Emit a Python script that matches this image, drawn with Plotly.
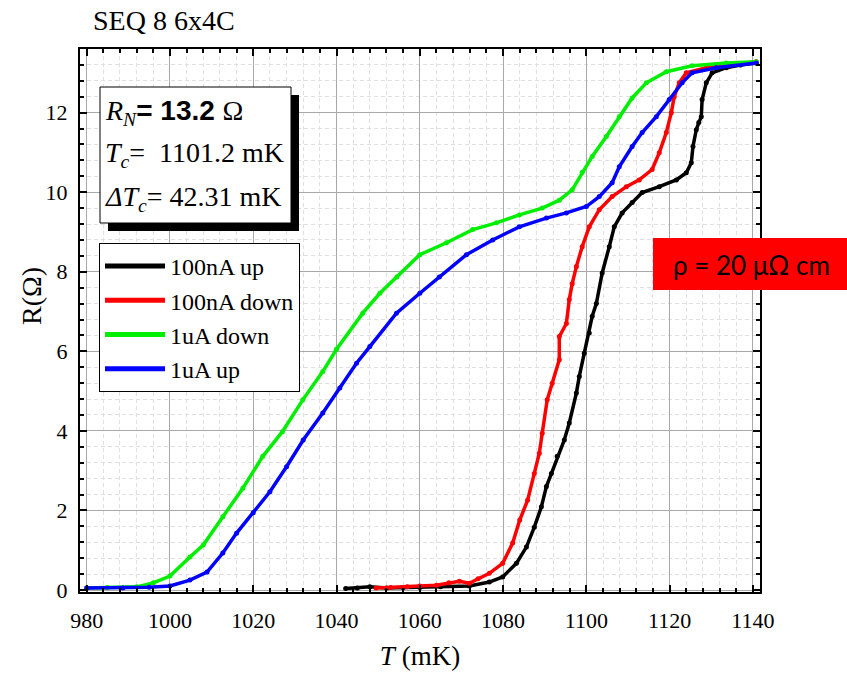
import plotly.graph_objects as go

# ---------------- data ----------------
t_100nA_up = [1042.2, 1045, 1048, 1052, 1056, 1060, 1065, 1071.9, 1076.7, 1079.9, 1083.2, 1085.6,
              1087.5, 1089.2, 1090.4, 1091.6, 1093.0, 1094.7, 1095.9, 1097.6, 1098.3, 1099.5,
              1100.7, 1101.4, 1102.4, 1103.8, 1105.5, 1106.7, 1108.6, 1111.0, 1113.4, 1117.5,
              1121.6, 1124.0, 1125.2, 1125.6, 1126.4, 1127.0, 1127.6, 1127.8, 1128.8, 1130.2,
              1133.6, 1137.0, 1140.8]
r_100nA_up = [0.04, 0.05, 0.08, 0.05, 0.06, 0.06, 0.08, 0.1, 0.2, 0.33, 0.67, 1.08,
              1.58, 2.09, 2.6, 2.93, 3.36, 3.77, 4.2, 4.95, 5.37, 5.95,
              6.46, 6.88, 7.2, 7.97, 8.63, 9.13, 9.48, 9.74, 9.99, 10.14,
              10.31, 10.49, 10.74, 11.15, 11.57, 11.75, 11.9, 12.33, 12.75, 13.0,
              13.13, 13.2, 13.25]

t_100nA_down = [1049.5, 1053, 1057, 1060, 1064, 1067, 1069.5, 1071.9, 1074, 1076.7, 1079.9,
                1082.3, 1084.0, 1085.9, 1087.5, 1088.7, 1089.4, 1090.6, 1091.8, 1093.5,
                1093.5, 1095.2, 1095.9, 1096.6, 1097.6, 1099.0, 1100.7, 1103.1, 1106.2,
                1109.6, 1112.7, 1115.8, 1117.5, 1119.2, 1120.4, 1121.1, 1122.3, 1124.0,
                1128.8, 1134.0, 1140.8]
r_100nA_down = [0.05, 0.06, 0.08, 0.1, 0.12, 0.18, 0.22, 0.17, 0.28, 0.42, 0.67,
                1.18, 1.76, 2.26, 2.93, 3.44, 3.94, 4.78, 5.2, 5.79,
                6.37, 6.7, 7.3, 7.7, 8.13, 8.63, 9.13, 9.56, 9.89,
                10.14, 10.31, 10.57, 10.99, 11.5, 12.0, 12.4, 12.75, 13.0,
                13.13, 13.2, 13.28]

t_1uA_down = [980.0, 985, 992.0, 996, 1000.0, 1004.8, 1008.0, 1012.7, 1017.5, 1022.3, 1027.0,
              1031.9, 1036.7, 1040.0, 1046.3, 1050.4, 1054.5, 1060.0, 1066.4, 1072.7,
              1078.4, 1083.9, 1089.4, 1093.5, 1096.6, 1099.0, 1101.4, 1104.8, 1107.9,
              1111.0, 1114.4, 1119.2, 1125.4, 1133.6, 1140.8]
r_1uA_down = [0.05, 0.06, 0.08, 0.18, 0.35, 0.83, 1.13, 1.84, 2.56, 3.36, 3.98,
              4.78, 5.49, 6.05, 6.96, 7.46, 7.87, 8.43, 8.73, 9.06,
              9.23, 9.43, 9.6, 9.8, 10.06, 10.5, 10.9, 11.4, 11.9,
              12.37, 12.75, 13.03, 13.18, 13.25, 13.28]

t_1uA_up = [980.0, 988.7, 995, 1000.0, 1004.8, 1008.9, 1012.7, 1016.0, 1020.0, 1024.0, 1028.0,
            1032.0, 1036.7, 1040.8, 1044.8, 1048.0, 1054.4, 1060.0, 1064.7, 1071.2,
            1077.5, 1083.9, 1090.4, 1095.2, 1100.0, 1103.1, 1106.2, 1107.9, 1111.0,
            1113.4, 1116.8, 1119.9, 1123.0, 1125.4, 1131.2, 1140.8]
r_1uA_up = [0.05, 0.05, 0.07, 0.1, 0.25, 0.45, 0.93, 1.43, 1.94, 2.47, 3.1,
            3.77, 4.45, 5.08, 5.7, 6.12, 6.96, 7.46, 7.87, 8.43,
            8.8, 9.13, 9.35, 9.48, 9.64, 9.89, 10.24, 10.64, 11.15,
            11.5, 11.9, 12.33, 12.75, 13.0, 13.13, 13.25]

series_names = ["100nA up", "100nA down", "1uA down", "1uA up"]
series_colors = ["#000000", "#ff0000", "#00ee00", "#0000ff"]
series_t = [t_100nA_up, t_100nA_down, t_1uA_down, t_1uA_up]
series_r = [r_100nA_up, r_100nA_down, r_1uA_down, r_1uA_up]

x_ticks = [980, 1000, 1020, 1040, 1060, 1080, 1100, 1120, 1140]
y_ticks = [0, 2, 4, 6, 8, 10, 12]

SERIF = "Liberation Serif"

fig = go.Figure()

# data traces (no legend)
for name, col, t, r in zip(series_names, series_colors, series_t, series_r):
    fig.add_trace(go.Scatter(x=t, y=r, mode="lines+markers", name=name, showlegend=False,
                             line=dict(color=col, width=3.5),
                             marker=dict(color=col, size=5)))
# legend entries
for name, col in zip(series_names, series_colors):
    fig.add_trace(go.Scatter(x=[None], y=[None], mode="lines", name=name,
                             line=dict(color=col, width=5)))

axis_common = dict(
    showline=True, linecolor="black", linewidth=2, mirror="allticks",
    ticks="inside", ticklen=7, tickwidth=2, tickcolor="black",
    showgrid=True, gridcolor="#a8a8a8", gridwidth=1,
    zeroline=False,
    tickfont=dict(family=SERIF, size=22, color="black"),
)

minor_common = dict(ticks="inside", ticklen=4, tickwidth=1.5, tickcolor="black",
                    showgrid=True, gridcolor="#e0e0e0", griddash="4px,3px", gridwidth=1)

fig.update_xaxes(range=[978.4, 1141.7], tickvals=x_ticks, ticklabelstandoff=8,
                 minor=dict(dtick=4, tick0=980, **minor_common),
                 title=dict(text="<i>T</i> (mK)", font=dict(family=SERIF, size=27, color="black"),
                            standoff=14),
                 **axis_common)
fig.update_yaxes(range=[-0.05, 13.6], tickvals=y_ticks, ticklabelstandoff=6,
                 minor=dict(dtick=0.4, tick0=0, **minor_common),
                 **axis_common)

W, H = 847, 677
L, R, T, B = 80, 87, 49, 85
pw, ph = W - L - R, H - T - B


def px(xp):
    return (xp - L) / pw


def py(yp):
    return 1 - (yp - T) / ph


# y-axis title (placed like the reference, slightly above centre)
fig.add_annotation(text="R(Ω)", xref="paper", yref="paper", x=px(31), y=py(296),
                   xanchor="center", yanchor="middle", showarrow=False, textangle=-90,
                   font=dict(family=SERIF, size=28, color="black"))

# parameter box: shadow + white box
fig.add_shape(type="rect", xref="paper", yref="paper",
              x0=px(108), x1=px(299), y0=py(231), y1=py(95),
              fillcolor="black", line=dict(width=0), layer="above")
fig.add_shape(type="rect", xref="paper", yref="paper",
              x0=px(100), x1=px(291), y0=py(223), y1=py(87),
              fillcolor="white", line=dict(color="black", width=1), layer="above")

box_lines = [
    ('<i>R</i><sub><i>N</i></sub><span style="font-family:Liberation Sans;font-weight:bold">= 13.2 </span>Ω', 112),
    ('<i>T</i><sub><i>c</i></sub>=  1101.2 mK', 154),
    ('<i>ΔT</i><sub><i>c</i></sub>= 42.31 mK', 198),
]
for txt, yy in box_lines:
    fig.add_annotation(text=txt, xref="paper", yref="paper", x=px(103), y=py(yy),
                       xanchor="left", yanchor="middle", showarrow=False,
                       font=dict(family=SERIF, size=28, color="black"))

# red resistivity label
fig.add_shape(type="rect", xref="paper", yref="paper",
              x0=px(653), x1=px(850), y0=py(290), y1=py(238),
              fillcolor="#ff0000", line=dict(width=0), layer="above")
fig.add_annotation(text="ρ = 20 μΩ cm", xref="paper", yref="paper", x=px(751), y=py(265),
                   xanchor="center", yanchor="middle", showarrow=False,
                   font=dict(family="Lato", size=26, color="black"))

# title
fig.add_annotation(text="SEQ 8 6x4C", xref="paper", yref="paper", x=px(91), y=py(21),
                   xanchor="left", yanchor="middle", showarrow=False,
                   font=dict(family=SERIF, size=28, color="black"))

fig.update_layout(
    width=W, height=H,
    margin=dict(l=L, r=R, t=T, b=B),
    paper_bgcolor="white", plot_bgcolor="white",
    legend=dict(x=px(99), y=py(243), xanchor="left", yanchor="top",
                bgcolor="white", bordercolor="black", borderwidth=1,
                font=dict(family=SERIF, size=24, color="black"),
                itemwidth=60, tracegroupgap=0),
    showlegend=True,
)

fig.write_html("out.html")
